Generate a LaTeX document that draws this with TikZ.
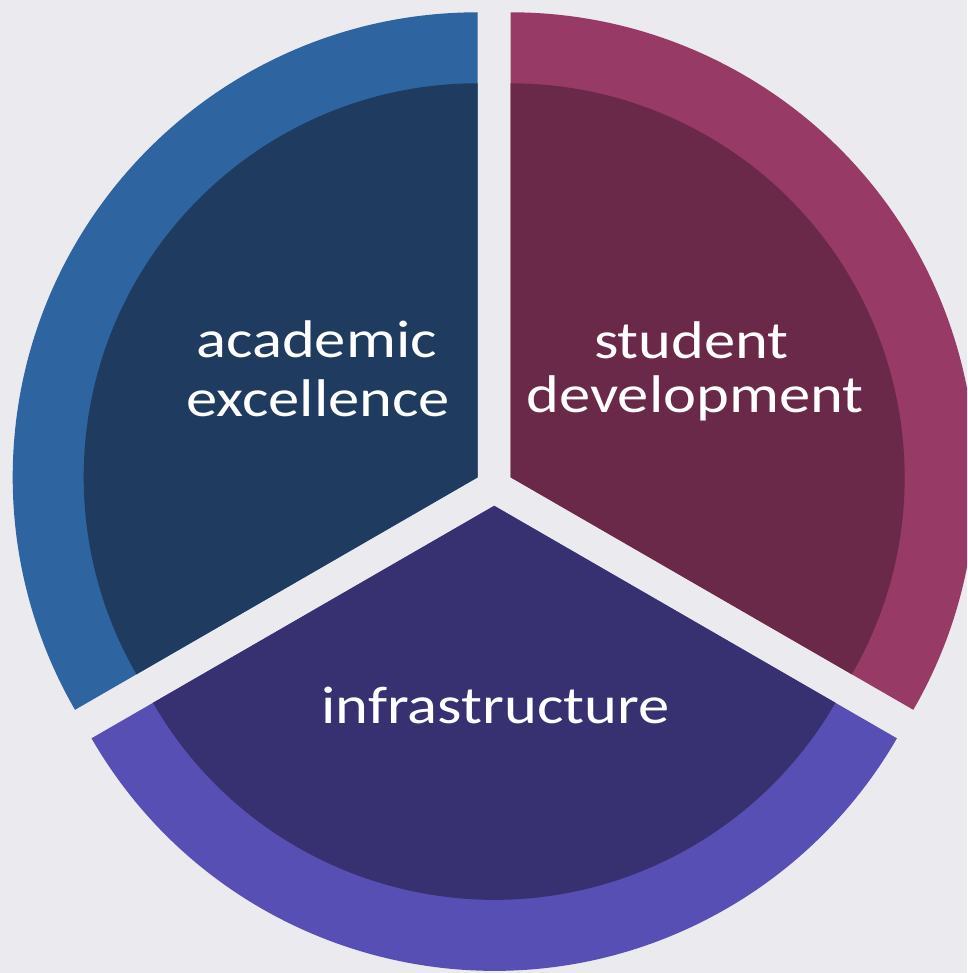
\documentclass[tikz,border=0pt]{standalone}
\usepackage{fontspec}
\setmainfont{Carlito}
\definecolor{bgc}{HTML}{EBEAEE}
\definecolor{blueout}{HTML}{2E64A0}
\definecolor{bluein}{HTML}{1F3C60}
\definecolor{pinkout}{HTML}{983A66}
\definecolor{pinkin}{HTML}{6A2948}
\definecolor{purpout}{HTML}{584FB4}
\definecolor{purpin}{HTML}{373172}
\begin{document}
\begin{tikzpicture}[x=1pt,y=1pt,
  lbl/.style={text=white, inner sep=0pt, anchor=base, xscale=1.18,
    font=\fontsize{53}{58}\selectfont}]
\useasboundingbox (0,0) rectangle (967,-973);
\fill[bgc] (0,0) rectangle (967,-973);
\clip (0,0) rectangle (967,-973);
% wedge apexes (exploded pie)
\coordinate (Ab) at (477.7,-477.3);
\coordinate (Ap) at (510.6,-477.3);
\coordinate (Au) at (494.2,-505.8);
% academic excellence
\fill[blueout] (Ab) -- ++(90:465) arc[start angle=90, end angle=210, radius=465] -- cycle;
\fill[bluein] (Ab) -- ++(90:394) arc[start angle=90, end angle=210, radius=394] -- cycle;
% student development
\fill[pinkout] (Ap) -- ++(-30:465) arc[start angle=-30, end angle=90, radius=465] -- cycle;
\fill[pinkin] (Ap) -- ++(-30:394) arc[start angle=-30, end angle=90, radius=394] -- cycle;
% infrastructure
\fill[purpout] (Au) -- ++(210:465) arc[start angle=210, end angle=330, radius=465] -- cycle;
\fill[purpin] (Au) -- ++(210:394) arc[start angle=210, end angle=330, radius=394] -- cycle;
% labels
\node[lbl] (t1) at (316.5,-357) {academic};
\node[lbl] (t2) at (318,-416) {excellence};
\node[lbl] (t3) at (691.5,-358) {student};
\node[lbl] (t4) at (695,-412) {development};
\node[lbl] (t5) at (495.3,-723) {infrastructure};
\end{tikzpicture}
\end{document}
